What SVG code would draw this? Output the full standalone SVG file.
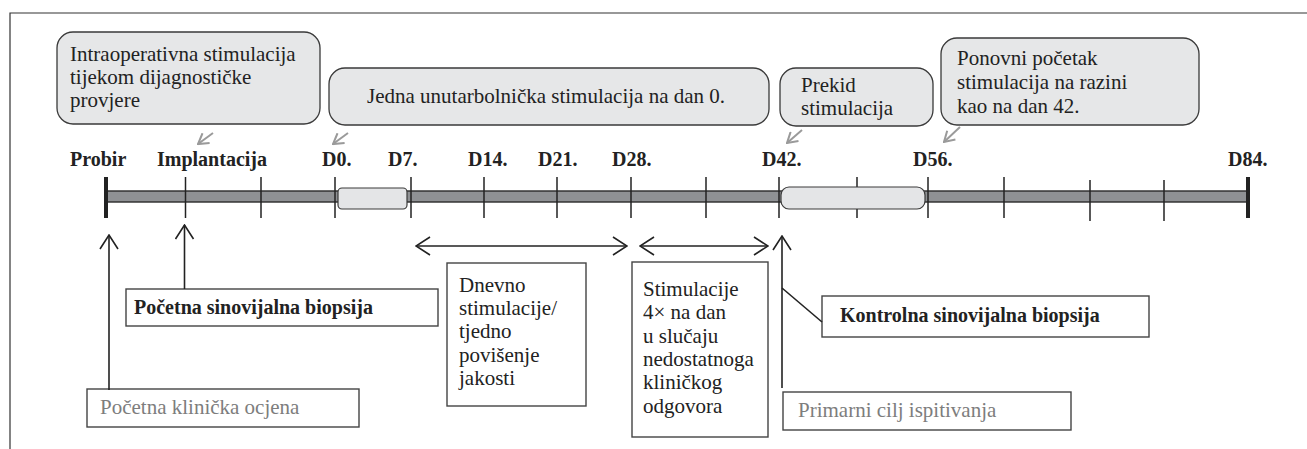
<svg xmlns="http://www.w3.org/2000/svg" width="1307" height="449" viewBox="0 0 1307 449">
<style>
  .t { font-family: "Liberation Serif", "Times New Roman", serif; font-size: 21px; fill: #222; }
  .b { font-family: "Liberation Serif", "Times New Roman", serif; font-size: 20px; font-weight: bold; fill: #222; }
  .g { font-family: "Liberation Serif", "Times New Roman", serif; font-size: 21px; fill: #7d7d7d; }
  .call { fill: #e6e7e8; stroke: #3a3a3a; stroke-width: 1.3; }
  .box { fill: #ffffff; stroke: #444; stroke-width: 1.4; }
  .pill { fill: #e4e5e7; stroke: #3a3a3a; stroke-width: 1.2; }
  .tick { stroke: #222; stroke-width: 1.5; }
  .endtick { stroke: #222; stroke-width: 4; }
  .conn { stroke: #222; stroke-width: 1.6; fill: none; }
  .ptr { stroke: #9a9a9a; stroke-width: 2; fill: none; }
</style>
<defs>
  <marker id="open" viewBox="0 0 16 20" refX="15" refY="10" markerWidth="16" markerHeight="20" markerUnits="userSpaceOnUse" orient="auto-start-reverse">
    <path d="M1,1 L15,10 L1,19" fill="none" stroke="#222" stroke-width="1.6"/>
  </marker>
  <marker id="gray" viewBox="0 0 12 14" refX="11" refY="7" markerWidth="12" markerHeight="14" markerUnits="userSpaceOnUse" orient="auto">
    <path d="M1,1 L11,7 L1,13" fill="none" stroke="#9a9a9a" stroke-width="2"/>
  </marker>
</defs>

<rect width="1307" height="449" fill="#ffffff"/>
<g id="frame">
  <path d="M10,449 L10,13 L1307,13" fill="none" stroke="#333" stroke-width="1.2"/>
</g>

<g id="timeline">
  <rect x="106" y="191" width="1142" height="11" fill="#8f9194" stroke="#2a2a2a" stroke-width="1.4"/>
  <line class="endtick" x1="106" y1="177" x2="106" y2="218"/>
  <line class="endtick" x1="1248" y1="177" x2="1248" y2="218"/>
  <line class="tick" x1="185.5" y1="177" x2="185.5" y2="218"/>
  <line class="tick" x1="261" y1="177" x2="261" y2="218"/>
  <line class="tick" x1="335" y1="177" x2="335" y2="218"/>
  <line class="tick" x1="411" y1="177" x2="411" y2="218"/>
  <line class="tick" x1="484" y1="177" x2="484" y2="218"/>
  <line class="tick" x1="557" y1="177" x2="557" y2="218"/>
  <line class="tick" x1="631" y1="177" x2="631" y2="218"/>
  <line class="tick" x1="706" y1="177" x2="706" y2="218" stroke-width="2"/>
  <line class="tick" x1="779" y1="177" x2="779" y2="218"/>
  <line class="tick" x1="857" y1="177" x2="857" y2="218"/>
  <line class="tick" x1="928" y1="177" x2="928" y2="218"/>
  <line class="tick" x1="1004" y1="177" x2="1004" y2="218"/>
  <line class="tick" x1="1090" y1="180" x2="1090" y2="221"/>
  <line class="tick" x1="1164" y1="180" x2="1164" y2="221"/>
  <rect class="pill" x="338" y="188" width="69" height="21" rx="4"/>
  <rect class="pill" x="781" y="187" width="144" height="22" rx="8"/>
  <text class="b" x="70" y="166">Probir</text>
  <text class="b" x="157" y="166">Implantacija</text>
  <text class="b" x="322" y="166">D0.</text>
  <text class="b" x="388" y="166">D7.</text>
  <text class="b" x="468" y="166">D14.</text>
  <text class="b" x="538" y="166">D21.</text>
  <text class="b" x="612" y="166">D28.</text>
  <text class="b" x="762" y="166">D42.</text>
  <text class="b" x="913" y="166">D56.</text>
  <text class="b" x="1228" y="166">D84.</text>
</g>

<g id="callout-intraop">
  <rect class="call" x="57" y="32" width="263" height="92" rx="16"/>
  <text class="t" x="70" y="61">Intraoperativna stimulacija</text>
  <text class="t" x="70" y="84">tijekom dijagnostičke</text>
  <text class="t" x="70" y="107">provjere</text>
</g>
<g id="callout-d0">
  <rect class="call" x="329" y="68" width="440" height="57" rx="16"/>
  <text class="t" x="367" y="103">Jedna unutarbolnička stimulacija na dan 0.</text>
</g>
<g id="callout-prekid">
  <rect class="call" x="780" y="68" width="153" height="58" rx="16"/>
  <text class="t" x="801" y="92">Prekid</text>
  <text class="t" x="801" y="115">stimulacija</text>
</g>
<g id="callout-ponovni">
  <rect class="call" x="941" y="38" width="258" height="87" rx="16"/>
  <text class="t" x="957" y="65">Ponovni početak</text>
  <text class="t" x="957" y="89">stimulacija na razini</text>
  <text class="t" x="957" y="113">kao na dan 42.</text>
</g>

<g id="box-pocetna-biopsija">
  <rect class="box" x="126" y="289" width="312" height="37"/>
  <text class="b" x="134" y="314">Početna sinovijalna biopsija</text>
</g>
<g id="box-klinicka">
  <rect class="box" x="87" y="389" width="272" height="38"/>
  <text class="g" x="100" y="414">Početna klinička ocjena</text>
</g>
<g id="box-dnevno">
  <rect class="box" x="447" y="263" width="139" height="143"/>
  <text class="t" x="459" y="292">Dnevno</text>
  <text class="t" x="459" y="315">stimulacije/</text>
  <text class="t" x="459" y="338">tjedno</text>
  <text class="t" x="459" y="362">povišenje</text>
  <text class="t" x="459" y="385">jakosti</text>
</g>
<g id="box-stimulacije">
  <rect class="box" x="632" y="262" width="136" height="175"/>
  <text class="t" x="643" y="296">Stimulacije</text>
  <text class="t" x="643" y="319">4× na dan</text>
  <text class="t" x="643" y="343">u slučaju</text>
  <text class="t" x="643" y="366">nedostatnoga</text>
  <text class="t" x="643" y="389">kliničkog</text>
  <text class="t" x="643" y="413">odgovora</text>
</g>
<g id="box-kontrolna">
  <rect class="box" x="822" y="296" width="327" height="41"/>
  <text class="b" x="840" y="322">Kontrolna sinovijalna biopsija</text>
</g>
<g id="box-primarni">
  <rect class="box" x="783" y="392" width="288" height="38"/>
  <text class="g" x="798" y="417">Primarni cilj ispitivanja</text>
</g>

<g id="connectors">
  <line class="ptr" x1="213" y1="133" x2="198" y2="144" marker-end="url(#gray)"/>
  <line class="ptr" x1="348" y1="133" x2="333" y2="144" marker-end="url(#gray)"/>
  <line class="ptr" x1="802" y1="130" x2="787" y2="143" marker-end="url(#gray)"/>
  <line class="ptr" x1="960" y1="127" x2="944" y2="142" marker-end="url(#gray)"/>
  <line class="conn" x1="109" y1="390" x2="109" y2="235" marker-end="url(#open)"/>
  <line class="conn" x1="184.5" y1="289" x2="184.5" y2="225" marker-end="url(#open)"/>
  <line class="conn" x1="416" y1="246" x2="627" y2="246" marker-start="url(#open)" marker-end="url(#open)"/>
  <line class="conn" x1="640" y1="246" x2="768" y2="246" marker-start="url(#open)" marker-end="url(#open)"/>
  <line class="conn" x1="782" y1="388" x2="782" y2="236" marker-end="url(#open)"/>
  <line class="conn" x1="782" y1="288" x2="822" y2="322"/>
</g>
</svg>
